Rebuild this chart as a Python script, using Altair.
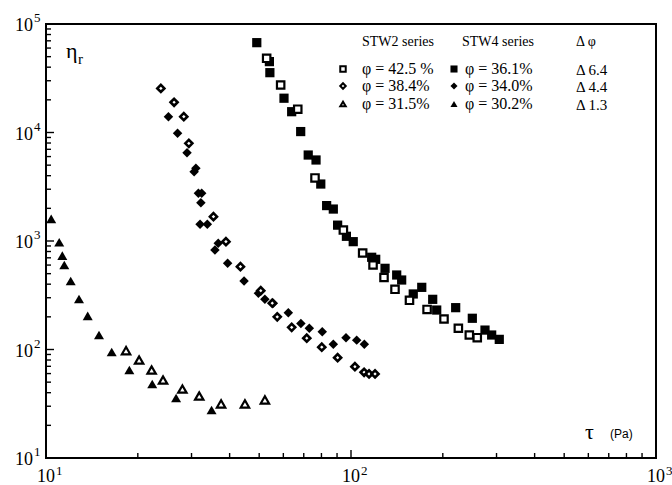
import altair as alt
import pandas as pd

# ---------------- data ----------------
# STW2 series, phi = 42.5 % (open squares)
sq_open_tau = [52.9, 58.8, 66.9, 76.2, 94.4, 109.2, 118.1, 128.3, 139.4, 155.5, 177.6, 201.8, 224.9, 244.3, 259.4]
sq_open_eta = [48300, 27400, 16400, 3810, 1262, 775, 601, 461, 359, 284, 234, 191, 157, 136, 128.5]

# STW4 series, phi = 36.1 % (filled squares)
sq_fill_tau = [49.1, 54.0, 54.2, 60.3, 63.9, 68.4, 72.4, 76.8, 79.6, 83.2, 87.5, 90.4, 96.6, 101.7,
               116.9, 120.5, 129.3, 141.2, 146.6, 160.0, 170.6, 185.3, 191.0, 220.4, 249.9, 275.0, 289.2, 306.3]
sq_fill_eta = [67300, 45000, 35600, 20700, 15550, 10200, 6200, 5580, 3350, 2120, 1970, 1400, 1105, 986,
               708, 678, 560, 486, 437, 325, 374, 290, 231, 243, 194, 151, 136, 124]

# STW2 series, phi = 38.4 % (open diamonds)
di_open_tau = [23.8, 26.3, 28.3, 29.4, 35.4, 38.9, 43.4, 50.6, 55.2, 57.3, 63.9, 71.6, 80.2, 90.4, 103.0, 110.4, 114.6, 119.9]
di_open_eta = [25500, 19000, 14000, 7950, 1675, 986, 580, 348, 267, 200, 160, 127, 105, 84.0, 69.4, 61.7, 59.5, 59.5]

# STW4 series, phi = 34.0 % (filled diamonds)
di_fill_tau = [25.2, 27.0, 29.0, 31.0, 30.6, 31.6, 32.4, 32.2, 32.0, 33.8, 36.7, 35.8, 39.4, 44.6, 49.7,
               52.2, 55.6, 62.3, 68.5, 73.0, 80.5, 87.5, 96.3, 104.4, 110.6]
di_fill_eta = [14000, 9840, 6510, 4680, 4350, 2750, 2750, 2250, 1425, 1425, 953, 826, 623, 428, 330,
               290, 267, 218, 174, 157, 146, 112, 128.5, 122, 112]

# STW2 series, phi = 31.5 % (open triangles)
tr_open_tau = [18.3, 20.2, 22.2, 24.2, 28.0, 31.8, 37.5, 44.9, 52.2]
tr_open_eta = [97.5, 80, 64.7, 52.4, 43.2, 37.3, 31.5, 31.5, 34.3]

# STW4 series, phi = 30.2 % (filled triangles)
tr_fill_tau = [10.4, 11.05, 11.31, 11.48, 12.05, 12.83, 13.7, 14.92, 16.42, 18.76, 22.3, 26.7, 34.9]
tr_fill_eta = [1600, 973, 733, 601, 428, 292, 204, 136, 94.8, 64.7, 48.1, 35.7, 27.7]

# axis ticks and labels
y_major = [10, 100, 1000, 10000, 100000]
y_exp = ["1", "2", "3", "4", "5"]
x_major = [10, 100, 1000]
x_exp = ["1", "2", "3"]
y_minor = [m * d for d in [10, 100, 1000, 10000] for m in range(2, 10)]
x_minor = [m * d for d in [10, 100] for m in range(2, 10)]

# legend texts
legend_header = ["STW2 series", "STW4 series", "Δ φ"]
legend_stw2 = ["φ = 42.5 %", "φ = 38.4%", "φ = 31.5%"]
legend_stw4 = ["φ = 36.1%", "φ = 34.0%", "φ = 30.2%"]
legend_dphi = ["Δ 6.4", "Δ 4.4", "Δ 1.3"]

# ---------------- chart ----------------
W, H = 610, 434
SERIF = "Liberation Serif"
xs = alt.Scale(type="log", domain=[10, 1000], nice=False)
ys = alt.Scale(type="log", domain=[10, 100000], nice=False)
one = pd.DataFrame({"k": [0]})

layers = []

# ticks (inward)
def yticks(vals, length):
    return alt.Chart(pd.DataFrame({"v": vals})).mark_rule(color="black", strokeWidth=1.4).encode(
        y=alt.Y("v:Q", scale=ys, axis=None), x=alt.value(0), x2=alt.value(length))

def xticks(vals, length):
    return alt.Chart(pd.DataFrame({"v": vals})).mark_rule(color="black", strokeWidth=1.4).encode(
        x=alt.X("v:Q", scale=xs, axis=None), y=alt.value(H), y2=alt.value(H - length))

layers += [yticks(y_major, 8), yticks(y_minor, 5), xticks(x_major, 8), xticks(x_minor, 5)]

# tick labels
ylab = pd.DataFrame({"v": y_major, "e": y_exp})
xlab = pd.DataFrame({"v": x_major, "e": x_exp})
layers.append(alt.Chart(ylab).mark_text(font=SERIF, fontSize=18, align="right", baseline="middle", dy=2).encode(
    y=alt.Y("v:Q", scale=ys, axis=None), x=alt.value(-13), text=alt.value("10")))
layers.append(alt.Chart(ylab).mark_text(font=SERIF, fontSize=13, align="left", baseline="middle", dy=-6).encode(
    y=alt.Y("v:Q", scale=ys, axis=None), x=alt.value(-12), text="e:N"))
layers.append(alt.Chart(xlab).mark_text(font=SERIF, fontSize=18, align="center", baseline="middle").encode(
    x=alt.X("v:Q", scale=xs, axis=None), y=alt.value(H + 19), text=alt.value("10")))
layers.append(alt.Chart(xlab).mark_text(font=SERIF, fontSize=13, align="left", baseline="middle", dx=10).encode(
    x=alt.X("v:Q", scale=xs, axis=None), y=alt.value(H + 13), text="e:N"))

# data points
def pts(tau, eta, shape, filled, size, sw=2.2):
    df = pd.DataFrame({"tau": tau, "eta": eta})
    if filled:
        m = alt.Chart(df).mark_point(shape=shape, filled=True, color="black", opacity=1, size=size)
    else:
        m = alt.Chart(df).mark_point(shape=shape, filled=True, fill="white", stroke="black",
                                     strokeWidth=sw, opacity=1, size=size)
    return m.encode(x=alt.X("tau:Q", scale=xs, axis=None), y=alt.Y("eta:Q", scale=ys, axis=None))

layers += [
    pts(sq_fill_tau, sq_fill_eta, "square", True, 85),
    pts(sq_open_tau, sq_open_eta, "square", False, 55),
    pts(di_fill_tau, di_fill_eta, "diamond", True, 90),
    pts(di_open_tau, di_open_eta, "diamond", False, 50, 2.6),
    pts(tr_fill_tau, tr_fill_eta, "triangle-up", True, 100),
    pts(tr_open_tau, tr_open_eta, "triangle-up", False, 70),
]

# axis titles
def txt(t, x, y, size, font=SERIF, align="left", baseline="alphabetic"):
    return alt.Chart(one).mark_text(font=font, fontSize=size, align=align, baseline=baseline, color="black").encode(
        x=alt.value(x), y=alt.value(y), text=alt.value(t))

layers += [
    txt("η", 20, 34, 22),
    txt("r", 32, 40, 15),
    txt("τ", 539, 415, 22),
    txt("(Pa)", 564, 414, 12, font="Liberation Sans"),
]

# legend
hx = [316, 416, 530]
for t, x in zip(legend_header, hx):
    layers.append(txt(t, x, 18, 14, baseline="middle"))
row_y = [45, 62, 80]
shapes = ["square", "diamond", "triangle-up"]
for i in range(3):
    layers.append(txt(legend_stw2[i], 316, row_y[i], 16, baseline="middle"))
    layers.append(txt(legend_stw4[i], 419, row_y[i], 16, baseline="middle"))
    layers.append(txt(legend_dphi[i], 530, row_y[i] + 1, 15, baseline="middle"))
    layers.append(alt.Chart(one).mark_point(shape=shapes[i], filled=True, fill="white", stroke="black",
                                            strokeWidth=2, opacity=1, size=30).encode(
        x=alt.value(297), y=alt.value(row_y[i])))
    layers.append(alt.Chart(one).mark_point(shape=shapes[i], filled=True, color="black", opacity=1,
                                            size=50).encode(
        x=alt.value(408), y=alt.value(row_y[i])))

chart = alt.layer(*layers).properties(
    width=W, height=H,
    autosize=alt.AutoSizeParams(type="none"),
    padding={"left": 46, "top": 24, "right": 16, "bottom": 27},
    background="white",
).configure_view(stroke="black", strokeWidth=2)

chart.save("out.html", embed_options={"renderer": "svg", "actions": False})
